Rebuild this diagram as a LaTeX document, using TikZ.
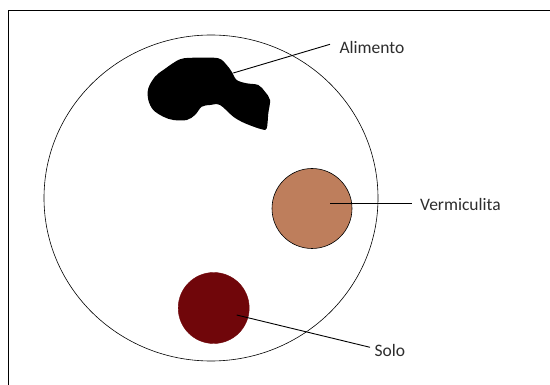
\documentclass[tikz,border=0pt]{standalone}
\usepackage{fontspec}
\setmainfont{Carlito}
\definecolor{verm}{RGB}{190,126,92}
\definecolor{solo}{RGB}{112,6,10}
\definecolor{txt}{RGB}{45,45,45}
\begin{document}
\begin{tikzpicture}[x=1pt,y=-1pt,
  lead/.style={draw=black,line width=0.9pt},
  lbl/.style={anchor=base west,inner sep=0pt,text=txt,font=\fontsize{17.5}{19}\selectfont},
  edge/.style={draw=black,line width=0.6pt}]
\useasboundingbox (0,0) rectangle (550,385);
\fill[white] (0,0) rectangle (550,385);
% frame (only left and top edges visible)
\draw[line width=1.4pt] (8.3,390) -- (8.3,10.3) -- (560,10.3);
% dish
\draw[edge] (211,198) ellipse [x radius=167, y radius=163];
% food blob
\fill[black] plot[smooth cycle, tension=0.55] coordinates {
 (163.3,70) (180,59.3) (196.7,57.7) (218.3,58.3) (226.7,65) (231.7,71.7)
 (236.7,80) (246.7,83.3) (258.3,85) (265,91.7) (270,100) (268.3,113.3)
 (266.7,128.3) (261.7,129.3) (245,123.3) (233.3,116.7) (220,105) (210,105)
 (201.7,106.7) (195,115) (186.7,120) (173.3,120) (163.3,116.7) (153.3,110)
 (148.3,100) (148.3,88.3) (155,76.7)};
\coordinate (alim) at (233.3,73);
% vermiculita
\node[circle,minimum size=80pt,inner sep=0pt,fill=verm,edge] (verm) at (312,208.5) {};
% solo
\node[circle,minimum size=71pt,inner sep=0pt,fill=solo,draw=solo] (solo) at (213.7,308) {};
% labels
\node[lbl] (tA) at (339.3,53.3) {Alimento};
\node[lbl] (tV) at (420,210.7) {Vermiculita};
\node[lbl] (tS) at (374.3,356.3) {Solo};
% leaders
\coordinate (vc) at (330,203.3);
\coordinate (sc) at (236.7,315);
\draw[lead] (alim) -- ([xshift=-9.3pt,yshift=9pt]tA.base west);
\draw[lead] (vc) -- ([xshift=-8.3pt,yshift=7.4pt]tV.base west);
\draw[lead] (sc) -- ([xshift=-4.3pt,yshift=9pt]tS.base west);
\end{tikzpicture}
\end{document}
